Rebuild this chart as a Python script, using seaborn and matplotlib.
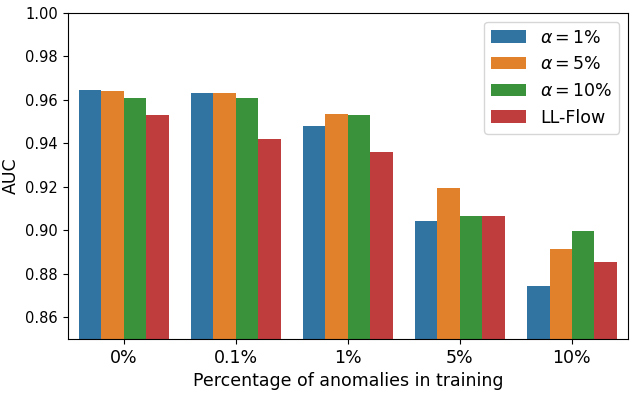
import pandas as pd
import matplotlib
matplotlib.use('Agg')
import matplotlib.pyplot as plt
import seaborn as sns

# AUC values
categories = ['0%', '0.1%', '1%', '5%', '10%']
series_names = [r'$\alpha = 1\%$', r'$\alpha = 5\%$', r'$\alpha = 10\%$', 'LL-Flow']
auc_alpha1 = [0.9646, 0.9632, 0.9480, 0.9044, 0.8743]
auc_alpha5 = [0.9641, 0.9632, 0.9536, 0.9193, 0.8913]
auc_alpha10 = [0.9609, 0.9609, 0.9531, 0.9067, 0.8996]
auc_llflow = [0.9531, 0.9421, 0.9361, 0.9067, 0.8853]

rows = []
for name, vals in zip(series_names, [auc_alpha1, auc_alpha5, auc_alpha10, auc_llflow]):
    for cat, v in zip(categories, vals):
        rows.append({'pct': cat, 'method': name, 'auc': v})
df = pd.DataFrame(rows)

fig = plt.figure(figsize=(6.33, 3.93), dpi=100)
ax = fig.add_axes([0.107, 0.137, 0.885, 0.830])
sns.barplot(x='pct', y='auc', hue='method', data=df, ax=ax, order=categories,
            hue_order=series_names, palette='tab10', saturation=0.75)
ax.set_ylim(0.85, 1.0)
ax.set_xlabel('Percentage of anomalies in training', fontsize=12.5)
ax.set_ylabel('AUC', fontsize=12.5)
ax.tick_params(axis='x', labelsize=12.5)
ax.tick_params(axis='y', labelsize=10.5)
ax.legend(loc='upper right', fontsize=12.5, title=None)
fig.savefig('out.png', dpi=100)
